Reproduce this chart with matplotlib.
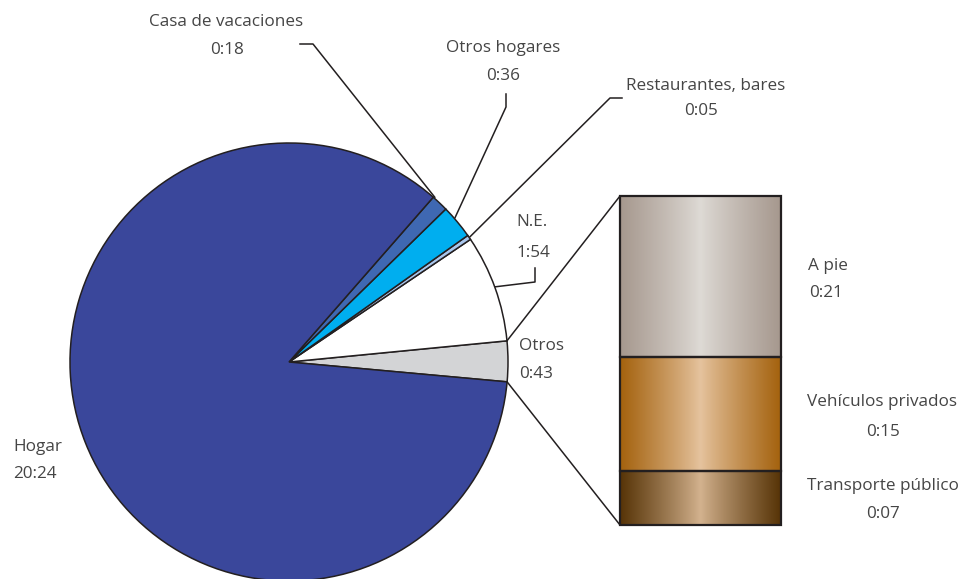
import numpy as np
import matplotlib.pyplot as plt
from matplotlib.colors import LinearSegmentedColormap

# time spent by location (minutes), counterclockwise from the "Otros" slice
pie_labels = ['Otros', 'N.E.', 'Restaurantes, bares', 'Otros hogares',
              'Casa de vacaciones', 'Hogar']
pie_minutes = [43, 114, 5, 36, 18, 1224]
pie_colors = ['#D3D4D6', '#FFFFFF', '#A9C6EC', '#00AEEF', '#3F68B2', '#3A479B']

# breakdown of "Otros" (minutes), bottom to top
bar_labels = ['Transporte público', 'Vehículos privados', 'A pie']
bar_minutes = [7, 15, 21]
bar_shades = [('#573407', '#D3B28E'), ('#A4620E', '#E5C39E'), ('#A6988E', '#DEDAD5')]


def hhmm(m):
    return f'{m // 60}:{m % 60:02d}'


def py(y):
    # pixel row (from top) -> data y
    return 579 - y


plt.rcParams['font.family'] = ['Open Sans', 'DejaVu Sans']
txt = dict(fontsize=12.3, color='#454545')

fig = plt.figure(figsize=(9.64, 5.79), dpi=100)
ax = fig.add_axes([0, 0, 1, 1])

cx, cy, r = 289, py(362), 219
wedges, _ = ax.pie(pie_minutes, colors=pie_colors, startangle=-5.2,
                   center=(cx, cy), radius=r,
                   wedgeprops=dict(edgecolor='#231F20', linewidth=1.1))


def edge_point(ang, rr=r):
    a = np.radians(ang)
    return cx + rr * np.cos(a), cy + rr * np.sin(a)


# stacked bar for "Otros"
bar_x, bar_w, bar_bottom = 700.5, 161, py(525)
scale = 329 / sum(bar_minutes)
heights = np.array(bar_minutes) * scale
bottoms = bar_bottom + np.concatenate([[0], np.cumsum(heights)[:-1]])
bars = ax.bar(bar_x, heights, width=bar_w, bottom=bottoms, facecolor='none',
              edgecolor='#231F20', linewidth=1.6, zorder=3)
grad = np.abs(np.linspace(-1, 1, 300))[None, :] ** 0.9
for b, (edge_c, mid_c) in zip(bars, bar_shades):
    cmap = LinearSegmentedColormap.from_list('g', [mid_c, edge_c])
    x0, y0 = b.get_x(), b.get_y()
    ax.imshow(grad, cmap=cmap, extent=[x0, x0 + b.get_width(), y0, y0 + b.get_height()],
              aspect='auto', zorder=2, interpolation='bilinear')

# connectors from "Otros" slice to the bar
otros = wedges[0]
p1 = edge_point(otros.theta2)
p2 = edge_point(otros.theta1)
top = bar_bottom + heights.sum()
ax.plot([p1[0], bar_x - bar_w / 2], [p1[1], top], color='#231F20', lw=1.1, zorder=4)
ax.plot([p2[0], bar_x - bar_w / 2], [p2[1], bar_bottom], color='#231F20', lw=1.1, zorder=4)

# leader lines: (elbow, end) in pixel coords
leaders = {
    'N.E.': ((535, 282), (535, 268), 20),
    'Restaurantes, bares': ((610, 98), (622, 98), None),
    'Otros hogares': ((506, 107), (506, 94), 41),
    'Casa de vacaciones': ((313, 44), (300, 44), 48.5),
}
for w, lab in zip(wedges, pie_labels):
    if lab not in leaders:
        continue
    elbow, end, ang = leaders[lab]
    if ang is None:
        ang = (w.theta1 + w.theta2) / 2
    sx, sy = edge_point(ang, r + 1)
    ax.plot([sx, elbow[0], end[0]], [sy, py(elbow[1]), py(end[1])],
            color='#231F20', lw=1.1, zorder=4)

# labels (name, value) with pixel positions
mins = dict(zip(pie_labels + bar_labels, pie_minutes + bar_minutes))
label_pos = {
    'Casa de vacaciones': ((226, 22), (227, 50), 'center'),
    'Otros hogares': ((503, 48), (503, 76), 'center'),
    'Restaurantes, bares': ((706, 86), (701, 111), 'center'),
    'N.E.': ((532, 222), (533, 253), 'center'),
    'Otros': ((519, 346), (519, 374), 'left'),
    'Hogar': ((13, 447), (13, 474), 'left'),
    'A pie': ((808, 266), (809, 293), 'left'),
    'Vehículos privados': ((807, 402), (866, 432), 'left'),
    'Transporte público': ((807, 486), (866, 514), 'left'),
}
for lab, (p_name, p_val, ha) in label_pos.items():
    ax.text(p_name[0], py(p_name[1]), lab, ha=ha, va='center', **txt)
    ax.text(p_val[0], py(p_val[1]), hhmm(mins[lab]), ha=ha, va='center', **txt)

ax.set_xlim(0, 964)
ax.set_ylim(0, 579)
ax.set_aspect('equal')
ax.axis('off')
fig.savefig('out.png', dpi=100)
